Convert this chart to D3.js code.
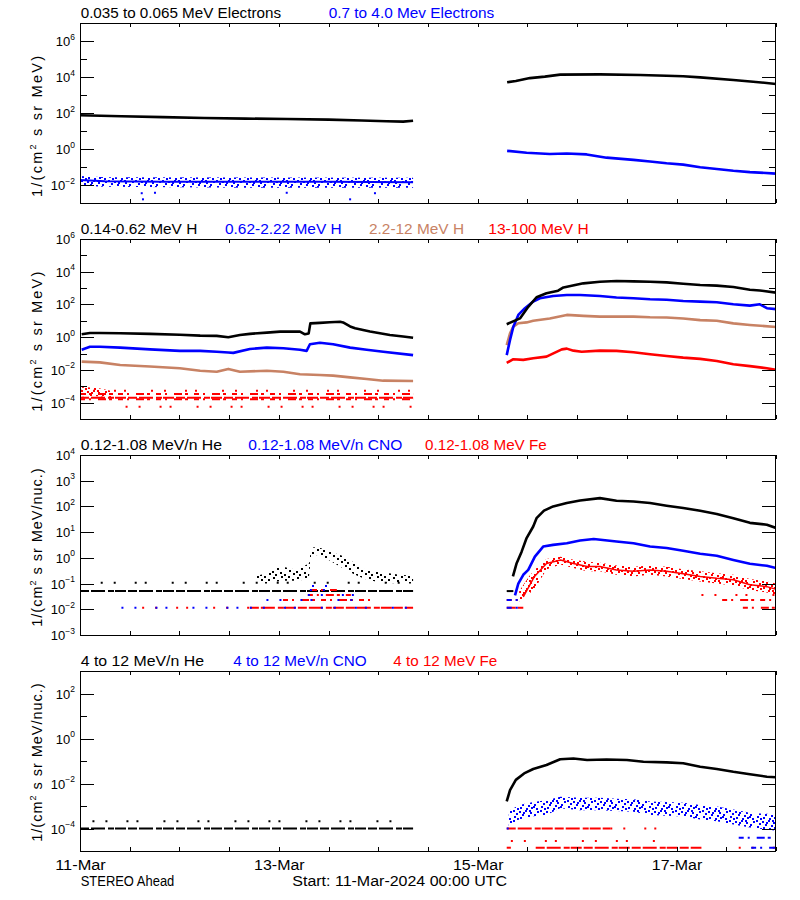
<!DOCTYPE html>
<html><head><meta charset="utf-8">
<script src="https://cdn.jsdelivr.net/npm/d3@7"></script>
<style>
body{margin:0;background:#fff}
svg{display:block}
text{font-family:"Liberation Sans",Arial,Helvetica,sans-serif;fill:#000}
</style>
</head><body>
<svg id="chart" width="800" height="900"></svg>
<script>
// ================= DATA (hours since 11-Mar-2024 00:00 UTC) =================
const START = Date.UTC(2024, 2, 11);
const spacecraft = "STEREO Ahead";
const startLabel = "Start: 11-Mar-2024 00:00 UTC";
const dayLabels = ["11-Mar", "13-Mar", "15-Mar", "17-Mar"];
const dayLabelHours = [0, 48, 96, 144];

const panelTitles = [
  ["0.035 to 0.065 MeV Electrons", "0.7 to 4.0 Mev Electrons"],
  ["0.14-0.62 MeV H", "0.62-2.22 MeV H", "2.2-12 MeV H", "13-100 MeV H"],
  ["0.12-1.08 MeV/n He", "0.12-1.08 MeV/n CNO", "0.12-1.08 MeV Fe"],
  ["4 to 12 MeV/n He", "4 to 12 MeV/n CNO", "4 to 12 MeV Fe"]
];
const yTitleParts = [
  ["1/(cm", "2", " s sr MeV)"],
  ["1/(cm", "2", " s sr MeV)"],
  ["1/(cm", "2", " s sr MeV/nuc.)"],
  ["1/(cm", "2", " s sr MeV/nuc.)"]
];
// y-axis decade exponents (labelled / minor)
const p1Major = [-2, 0, 2, 4, 6], p1Minor = [-1, 1, 3, 5];
const p2Major = [-4, -2, 0, 2, 4, 6], p2Minor = [-3, -1, 1, 3, 5];
const p3Major = [-3, -2, -1, 0, 1, 2, 3, 4], p3Minor = [];
const p4Major = [-4, -2, 0, 2], p4Minor = [-3, -1, 1];
const p1Domain = [1e-3, 1e7], p2Domain = [1e-5, 1e6], p3Domain = [1e-3, 1e4], p4Domain = [1e-5, 1e3];

// ---- Panel 1: electrons ----
const eLowPre = [[0,75],[10,66],[20,59],[30,53],[40,49],[50,46],[60,43],[68,38],[74,35],[78,33],[80.4,37]];
const eLowPost = [[103.1,5100],[105.2,6000],[108.6,8700],[112.2,10500],[115.9,13500],[125.5,14000],[135.2,13000],[141.6,11700],[145.6,11000],[149.7,9500],[157.7,6800],[162.5,5500],[168,4100]];
const eHighPre = [[0,0.019],[6,0.016],[20,0.015],[40,0.015],[60,0.015],[80.4,0.014]];
const eHighPreBand = [[0,0.009,0.032],[6,0.008,0.027],[40,0.007,0.026],[80.4,0.007,0.025]];
const eHighPreOut = [[14.9,0.0035],[15.2,0.0016],[18.1,0.0037],[49.9,0.0037],[65.2,0.0016],[71.2,0.0035]];
const eHighPost = [[103.1,0.79],[107.8,0.62],[113.4,0.53],[117.5,0.56],[122.3,0.5],[127.1,0.33],[133.6,0.25],[137.6,0.2],[141.6,0.16],[145.6,0.135],[149.7,0.096],[153.7,0.078],[157.7,0.062],[161.7,0.052],[168,0.043]];

// ---- Panel 2: protons ----
const hLowPre = [[0.4,1.5],[2.4,1.8],[4.8,1.8],[9.7,1.75],[16.9,1.6],[24.1,1.4],[29,1.25],[33,1.2],[35.8,1.0],[38.6,1.35],[41,1.6],[45.1,1.9],[48.3,2.2],[53.1,2.2],[54.3,1.5],[55.2,1.7],[55.6,7.0],[57.9,7.5],[60.3,8.1],[62.8,8.7],[63.5,8],[65.2,4.5],[66.4,3.5],[70,2.2],[74.8,1.35],[78,1.1],[80.4,0.93]];
const hLowPost = [[103,6.2],[106.2,14],[108.2,72],[110.2,275],[112.6,480],[115.4,690],[116.7,1100],[121.5,1950],[125.5,2450],[129.5,2700],[133.6,2570],[137.6,2450],[141.6,2240],[145.6,1860],[149.7,1550],[153.7,1410],[157.7,1170],[161.7,800],[164.1,720],[168,525]];
const hMidPre = [[0.4,0.17],[2.4,0.26],[4.8,0.26],[9.7,0.23],[16.9,0.18],[24.1,0.145],[29,0.145],[33,0.13],[35.8,0.115],[37,0.11],[41,0.19],[45.1,0.23],[49.1,0.21],[53.1,0.17],[54.7,0.145],[55.5,0.37],[57.9,0.46],[61.1,0.37],[65.2,0.23],[69.2,0.17],[73.2,0.13],[80.4,0.08]];
const hMidPost = [[103,0.08],[103.8,0.68],[104.6,4.4],[105.8,23],[107.4,59],[109.4,150],[111,240],[114.2,330],[117.5,380],[120.7,380],[125.5,330],[129.5,265],[133.6,240],[137.6,210],[141.6,195],[145.6,162],[149.7,148],[153.7,135],[157.7,102],[161.7,85],[164.1,102],[165.8,59],[168,52]];
const hHighMidPre = [[0.4,0.032],[4.8,0.029],[9.7,0.02],[16.9,0.016],[24.1,0.0126],[29,0.0089],[33,0.0078],[35.8,0.0115],[38.6,0.0078],[45.1,0.0089],[49.1,0.0078],[53.1,0.0054],[57.9,0.0049],[61.1,0.0045],[65.2,0.0035],[69.2,0.0028],[73.2,0.0022],[80.4,0.0021]];
const hHighMidPost = [[103,0.33],[103.8,1.7],[104.6,4.4],[105.8,7.1],[107.8,8],[109.4,10],[113.4,14],[117.5,23],[121.5,20],[125.5,18],[129.5,18.5],[133.6,18],[137.6,16.5],[141.6,16],[145.6,14],[149.7,11],[153.7,10],[157.7,7],[161.7,5.6],[168,4.2]];
const hHighPreBand = [[0,0.00025,0.0009],[4,0.00025,0.0008],[8,0.00022,0.0005]];
// count-level rows: [startHour, endHour, value, occupancy 1..3]
const hHighPreRows = [[0,80.4,5.4e-4,1],[0,80.4,3.4e-4,2],[0,80.4,2.0e-4,3],[0,80.4,1.6e-4,2],[11,80.4,5.6e-5,1]];
const hHighPost = [[103,0.027],[104.6,0.045],[107,0.041],[109.4,0.051],[112.6,0.065],[116.3,0.18],[117.5,0.2],[119.1,0.15],[121.1,0.13],[125.5,0.15],[129.5,0.145],[133.6,0.12],[137.6,0.091],[141.6,0.071],[145.6,0.056],[149.7,0.047],[153.7,0.035],[157.7,0.022],[161.7,0.017],[165.8,0.0126],[168,0.01]];

// ---- Panel 3: 0.12-1.08 MeV/n heavy ions ----
const he3PreRows = [[0,80.4,0.051,3],[5,80.4,0.107,1]];
const he3PreBand = [[42.7,0.1,0.2],[45.1,0.1,0.25],[47.6,0.12,0.4],[49,0.13,0.45],[51.9,0.13,0.35],[54.3,0.14,0.5],[55.3,0.2,0.6],[55.8,1.2,2.5],[57.4,1.3,2.6],[59.6,0.9,2.0],[61.5,0.6,1.5],[64,0.35,1.1],[66.4,0.22,0.6],[68.8,0.15,0.35],[72.4,0.11,0.28],[77.2,0.1,0.22],[80.4,0.1,0.2]];
const cno3PreRows = [[10,41,0.0115,1],[41,80.4,0.0115,1],[45,70,0.023,1],[55,68,0.036,1],[55.5,62,0.056,1],[56,60,0.08,1]];
const fe3PreRows = [[15,41,0.0115,1],[41,80.4,0.0115,3],[49,70,0.023,2],[55,66,0.036,2],[56,62,0.056,2],[56,60,0.08,1]];
const he3PostRows = [[103,104.6,0.051,3]];
const he3Post = [[104.5,0.19],[105.4,0.62],[106.6,1.74],[107.8,5.9],[109.4,16.6],[110.2,35],[112,69],[114.2,100],[117.5,135],[120.7,170],[125.5,210],[129.5,166],[133.6,155],[137.6,135],[141.6,107],[145.6,87],[149.7,68],[153.7,51],[157.7,35],[161.7,23],[165.8,19.5],[168,14.5]];
const cno3PostRows = [[103,106,0.0115,2],[103,107,0.023,2]];
const cno3Post = [[105,0.035],[105.8,0.1],[107,0.22],[108.2,0.34],[109.8,1.12],[111.8,2.75],[114.2,3.2],[117.5,3.7],[120.7,4.7],[124,5.4],[129.5,4.3],[133.6,3.7],[137.6,2.75],[141.6,2.4],[145.6,1.9],[149.7,1.45],[153.7,1.2],[157.7,0.83],[161.7,0.59],[165.8,0.49],[168,0.4]];
const fe3PostRows = [[103,107,0.0115,3],[103,107,0.023,2],[155,168,0.023,2],[160,168,0.0115,2],[150,168,0.036,1]];
const fe3Post = [[107,0.03],[109.7,0.19],[112.6,0.6],[116,0.83],[119.1,0.6],[122.4,0.46],[125.5,0.46],[129.5,0.34],[133.6,0.3],[137.6,0.34],[141.6,0.3],[145.6,0.24],[149.7,0.19],[153.7,0.16],[157.7,0.14],[161.7,0.09],[165.8,0.076],[168,0.06]];
const fe3PostBand = [[106,0.02,0.05],[108.5,0.04,0.2],[110.2,0.08,0.4],[112.6,0.35,0.9],[116,0.55,1.1],[119.1,0.4,0.85],[122.4,0.3,0.7],[125.5,0.3,0.65],[129.5,0.22,0.5],[133.6,0.19,0.45],[137.6,0.22,0.5],[141.6,0.19,0.45],[145.6,0.15,0.36],[149.7,0.12,0.3],[153.7,0.1,0.25],[157.7,0.085,0.22],[161.7,0.055,0.15],[165.8,0.045,0.12],[168,0.035,0.1]];

// ---- Panel 4: 4-12 MeV/n heavy ions ----
const he4PreRows = [[0,80.4,1e-4,3],[3,78,2.1e-4,1]];
const he4Post = [[103,0.0016],[103.8,0.0051],[105.2,0.0145],[107.2,0.028],[109.4,0.044],[112.6,0.066],[115.9,0.12],[119.1,0.13],[122.4,0.11],[127.1,0.117],[132,0.11],[136,0.093],[141.6,0.087],[145.6,0.079],[149.7,0.056],[153.7,0.044],[157.7,0.033],[161.7,0.026],[165.8,0.02],[168,0.019]];
const cno4PostBand = [[103.5,1.2e-4,6e-4],[106,2.5e-4,1.1e-3],[109.4,3.5e-4,1.5e-3],[112.6,4e-4,1.8e-3],[115.9,8e-4,2.6e-3],[120.7,6.5e-4,2.3e-3],[125.5,6.5e-4,2.3e-3],[129.5,6e-4,2.1e-3],[133.6,5.5e-4,2e-3],[137.6,4e-4,1.6e-3],[141.6,3.7e-4,1.5e-3],[145.6,3.4e-4,1.4e-3],[149.7,2.5e-4,1.1e-3],[153.7,2.1e-4,9.5e-4],[157.7,1.5e-4,7e-4],[161.7,1.1e-4,5e-4],[165.8,9e-5,4.5e-4],[168,8e-5,4e-4]];
const cno4PostRows = [[159,168,3.9e-5,2],[162,168,1.4e-5,2],[103,105,1e-4,1]];
const fe4PostRows = [[103,128,1e-4,3],[128,142,1e-4,1],[104,141,2.75e-5,1],[103,104,1.4e-5,2],[110,150,1.4e-5,3],[159,168,1.4e-5,1]];

// ================= DRAWING =================
const K = "#000000", B = "#0000ff", BR = "#c88264", R = "#ff0000";
const svg = d3.select("#chart");
const defs = svg.append("defs");
const tm = h => new Date(START + h * 3600e3);
const x = d3.scaleUtc().domain([tm(0), tm(168)]).range([80, 776]);
const DASH = {1: "2 11 2 19 2 8 2 25", 2: "5 4 2 7 8 3 3 6", 3: "9 2 14 3 6 1 11 2"};

function makePattern(id, color, w, h, dots) {
  const p = defs.append("pattern").attr("id", id).attr("patternUnits", "userSpaceOnUse")
    .attr("width", w).attr("height", h);
  p.selectAll("rect").data(dots).join("rect")
    .attr("x", d => d[0]).attr("y", d => d[1]).attr("width", 2).attr("height", 2).attr("fill", color);
}
const denseDots = [[0,0],[6,1],[12,0],[17,2],[3,3],[9,4],[15,5],[1,6],[7,7],[13,8],[18,7],[4,8],[10,2],[16,0],[21,4],[24,1],[23,8],[20,6]];
const sparseDots = [[0,0],[9,1],[17,0],[4,3],[13,4],[21,3],[1,6],[8,7],[16,8],[11,10],[20,10],[5,9]];
makePattern("pB", B, 27, 10, denseDots);
makePattern("pR", R, 27, 10, denseDots);
makePattern("pK", K, 24, 12, sparseDots);

const layouts = [
  {top: 23, bottom: 203, dom: p1Domain, major: p1Major, minor: p1Minor},
  {top: 239, bottom: 419, dom: p2Domain, major: p2Major, minor: p2Minor},
  {top: 455, bottom: 635, dom: p3Domain, major: p3Major, minor: p3Minor},
  {top: 671, bottom: 851, dom: p4Domain, major: p4Major, minor: p4Minor}
];
const titleColors = [[K, B], [K, B, BR, R], [K, B, R], [K, B, R]];
const titleX = [[80.7, 328.7], [80.7, 225, 369, 488.3], [80.7, 248.3, 425], [80.7, 233.3, 393.3]];
const titleW = [[200.3, 165.6], [116.6, 116.7, 95, 100.4], [141.3, 154, 121.7], [123.3, 133.3, 104]];
const yTitleStart = [197, 411.7, 626.7, 841.7];
const yTitleLen = [141, 140, 158.4, 158.4];

function drawPanel(i, draw) {
  const L = layouts[i];
  const y = d3.scaleLog().domain(L.dom).range([L.bottom, L.top]);
  const g = svg.append("g");
  defs.append("clipPath").attr("id", "clip" + i).append("rect")
    .attr("x", 80).attr("y", L.top).attr("width", 696).attr("height", L.bottom - L.top);
  const plot = g.append("g").attr("clip-path", `url(#clip${i})`);
  const api = {
    line(data, color, w = 2.6) {
      plot.append("path").datum(data)
        .attr("d", d3.line().x(d => x(tm(d[0]))).y(d => y(d[1])))
        .attr("fill", "none").attr("stroke", color).attr("stroke-width", w).attr("stroke-linejoin", "round");
    },
    band(data, pat) {
      plot.append("path").datum(data)
        .attr("d", d3.area().x(d => x(tm(d[0]))).y0(d => y(d[1])).y1(d => y(d[2])))
        .attr("fill", `url(#${pat})`);
    },
    rows(data, color) {
      plot.append("g").selectAll("line").data(data).join("line")
        .attr("x1", d => x(tm(d[0]))).attr("x2", d => x(tm(d[1])))
        .attr("y1", d => y(d[2])).attr("y2", d => y(d[2]))
        .attr("stroke", color).attr("stroke-width", 2).attr("stroke-dasharray", d => DASH[d[3]]);
    },
    dots(data, color) {
      plot.append("g").selectAll("rect").data(data).join("rect")
        .attr("x", d => x(tm(d[0])) - 1).attr("y", d => y(d[1]) - 1)
        .attr("width", 2).attr("height", 2).attr("fill", color);
    }
  };
  draw(api);

  // axes (ticks inside)
  const ax = g.append("g");
  const maj = L.major.map(e => Math.pow(10, e)), mnr = L.minor.map(e => Math.pow(10, e));
  ax.append("g").attr("transform", "translate(80,0)").call(d3.axisLeft(y).tickValues(maj).tickSize(-14).tickFormat(""));
  ax.append("g").attr("transform", "translate(776,0)").call(d3.axisRight(y).tickValues(maj).tickSize(-14).tickFormat(""));
  if (mnr.length) {
    ax.append("g").attr("transform", "translate(80,0)").call(d3.axisLeft(y).tickValues(mnr).tickSize(-7).tickFormat(""));
    ax.append("g").attr("transform", "translate(776,0)").call(d3.axisRight(y).tickValues(mnr).tickSize(-7).tickFormat(""));
  }
  ax.append("g").attr("transform", `translate(0,${L.bottom})`).call(d3.axisBottom(x).ticks(d3.utcHour.every(12)).tickSize(-4).tickFormat(""));
  ax.append("g").attr("transform", `translate(0,${L.top})`).call(d3.axisTop(x).ticks(d3.utcHour.every(12)).tickSize(-4).tickFormat(""));
  ax.selectAll(".domain").remove();
  ax.selectAll("line").attr("stroke", "#000").attr("shape-rendering", "crispEdges");

  g.append("rect").attr("x", 80.5).attr("y", L.top + 0.5).attr("width", 695).attr("height", L.bottom - L.top)
    .attr("fill", "none").attr("stroke", "#000").attr("stroke-width", 1).attr("shape-rendering", "crispEdges");

  // tick labels 10^n
  L.major.forEach(e => {
    const t = g.append("text").attr("x", 75).attr("y", y(Math.pow(10, e)) + 5)
      .attr("text-anchor", "end").attr("font-size", 13);
    t.append("tspan").text("10");
    t.append("tspan").attr("font-size", 8.5).attr("dy", -6.5).text(e < 0 ? "\u2212" + (-e) : String(e));
  });

  // y title
  const yt = g.append("text")
    .attr("transform", `translate(41.5,${yTitleStart[i]}) rotate(-90)`)
    .attr("font-size", 14.5).attr("textLength", yTitleLen[i]).attr("lengthAdjust", "spacing");
  yt.append("tspan").text(yTitleParts[i][0]);
  yt.append("tspan").attr("font-size", 9).attr("dy", -6).text(yTitleParts[i][1]);
  yt.append("tspan").attr("dy", 6).text(yTitleParts[i][2]);

  // panel titles
  panelTitles[i].forEach((s, j) => {
    g.append("text").attr("x", titleX[i][j]).attr("y", L.top - 5)
      .attr("font-size", 14).style("fill", titleColors[i][j])
      .attr("textLength", titleW[i][j]).attr("lengthAdjust", "spacingAndGlyphs").text(s);
  });
}

drawPanel(0, p => {
  p.band(eHighPreBand, "pB");
  p.line(eHighPre, B, 2);
  p.dots(eHighPreOut, B);
  p.line(eHighPost, B, 2.6);
  p.line(eLowPre, K);
  p.line(eLowPost, K);
});

drawPanel(1, p => {
  p.band(hHighPreBand, "pR");
  p.rows(hHighPreRows, R);
  p.line(hHighPost, R);
  p.line(hHighMidPre, BR);
  p.line(hHighMidPost, BR);
  p.line(hMidPre, B);
  p.line(hMidPost, B);
  p.line(hLowPre, K);
  p.line(hLowPost, K);
});

drawPanel(2, p => {
  p.rows(he3PreRows, K);
  p.band(he3PreBand, "pK");
  p.rows(fe3PreRows, R);
  p.rows(cno3PreRows, B);
  p.rows(he3PostRows, K);
  p.line(he3Post, K);
  p.band(fe3PostBand, "pR");
  p.line(fe3Post, R, 1.5);
  p.rows(fe3PostRows, R);
  p.rows(cno3PostRows, B);
  p.line(cno3Post, B);
});

drawPanel(3, p => {
  p.rows(he4PreRows, K);
  p.rows(fe4PostRows, R);
  p.band(cno4PostBand, "pB");
  p.rows(cno4PostRows, B);
  p.line(he4Post, K);
});

// bottom labels
svg.append("g").selectAll("text").data(dayLabels).join("text")
  .attr("x", (d, k) => x(tm(dayLabelHours[k])) + 0.5).attr("y", 870)
  .attr("text-anchor", "middle").attr("font-size", 14)
  .attr("textLength", 50.5).attr("lengthAdjust", "spacingAndGlyphs").text(d => d);
svg.append("text").attr("x", 80.7).attr("y", 886).attr("font-size", 14)
  .attr("textLength", 93.6).attr("lengthAdjust", "spacingAndGlyphs").text(spacecraft);
svg.append("text").attr("x", 292.3).attr("y", 886).attr("font-size", 14)
  .attr("textLength", 214.7).attr("lengthAdjust", "spacingAndGlyphs").text(startLabel);
</script>
</body></html>
